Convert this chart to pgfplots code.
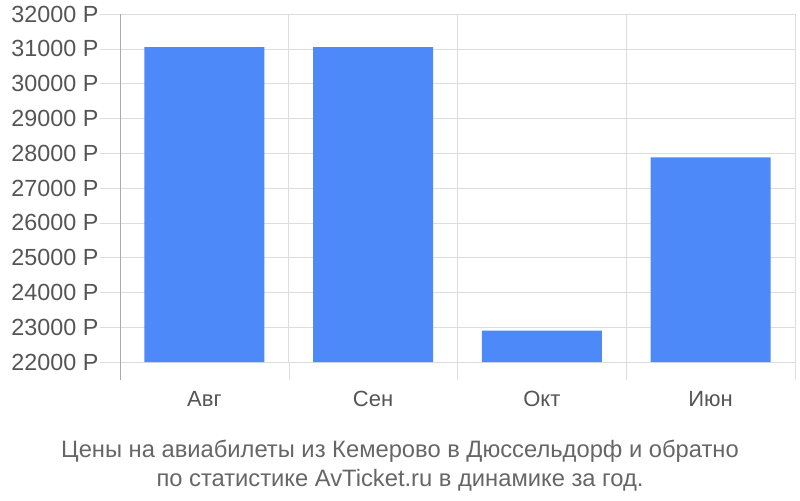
\documentclass[border=0pt]{standalone}
\usepackage{pgfplots}
\pgfplotsset{compat=1.18}
\usepackage{fontspec}
\setmainfont{Liberation Sans}
\definecolor{barblue}{HTML}{4D89F9}
\definecolor{gridgray}{HTML}{DDDDDD}
\definecolor{axisgray}{HTML}{AAAAAA}
\definecolor{txtgray}{HTML}{555555}
\definecolor{capgray}{HTML}{666666}
\begin{document}
\begin{tikzpicture}
\begin{axis}[
  scale only axis,
  width=506.25pt, height=261pt,
  xmin=-0.5, xmax=3.5,
  ymin=22000, ymax=32000,
  scaled y ticks=false,
  axis x line=bottom, axis y line=left,
  x axis line style={draw=gridgray, -},
  y axis line style={draw=axisgray, -},
  xtick={0,1,2,3},
  xticklabels={Авг,Сен,Окт,Июн},
  minor xtick={-0.5,0.5,1.5,2.5,3.5},
  xminorgrids,
  minor x grid style={gridgray},
  major x tick style={draw=none},
  minor x tick style={gridgray},
  minor tick length=13.5pt,
  major tick length=15pt,
  tick align=outside,
  ytick={22000,23000,...,32000},
  yticklabels={22000 Р,23000 Р,24000 Р,25000 Р,26000 Р,27000 Р,28000 Р,29000 Р,30000 Р,31000 Р,32000 Р},
  ymajorgrids,
  major y grid style={gridgray},
  major y tick style={gridgray},
  yticklabel style={font=\fontsize{17.5}{21}\selectfont, text=txtgray, inner sep=1pt},
  xticklabel style={font=\fontsize{16.5}{20}\selectfont, text=txtgray, anchor=base, yshift=-18.25pt},
  ybar, bar width=0.711,
]
\addplot[fill=barblue, draw=none] coordinates {(0,31045) (1,31045) (2,22900) (3,27880)};
\coordinate (O) at (rel axis cs:0,0);
\end{axis}
\draw[axisgray] (O) -- ++(0,-13.5pt);
\node[anchor=base, text=capgray, font=\fontsize{17.8}{21}\selectfont, inner sep=0pt] at ([shift={(210pt,-71.25pt)}]O) {Цены на авиабилеты из Кемерово в Дюссельдорф и обратно};
\node[anchor=base, text=capgray, font=\fontsize{17.8}{21}\selectfont, inner sep=0pt] at ([shift={(210pt,-93pt)}]O) {по статистике AvTicket.ru в динамике за год.};
\pgfresetboundingbox
\path[use as bounding box] ([shift={(-90pt,-103.5pt)}]O) rectangle ++(600pt,375pt);
\end{tikzpicture}
\end{document}
